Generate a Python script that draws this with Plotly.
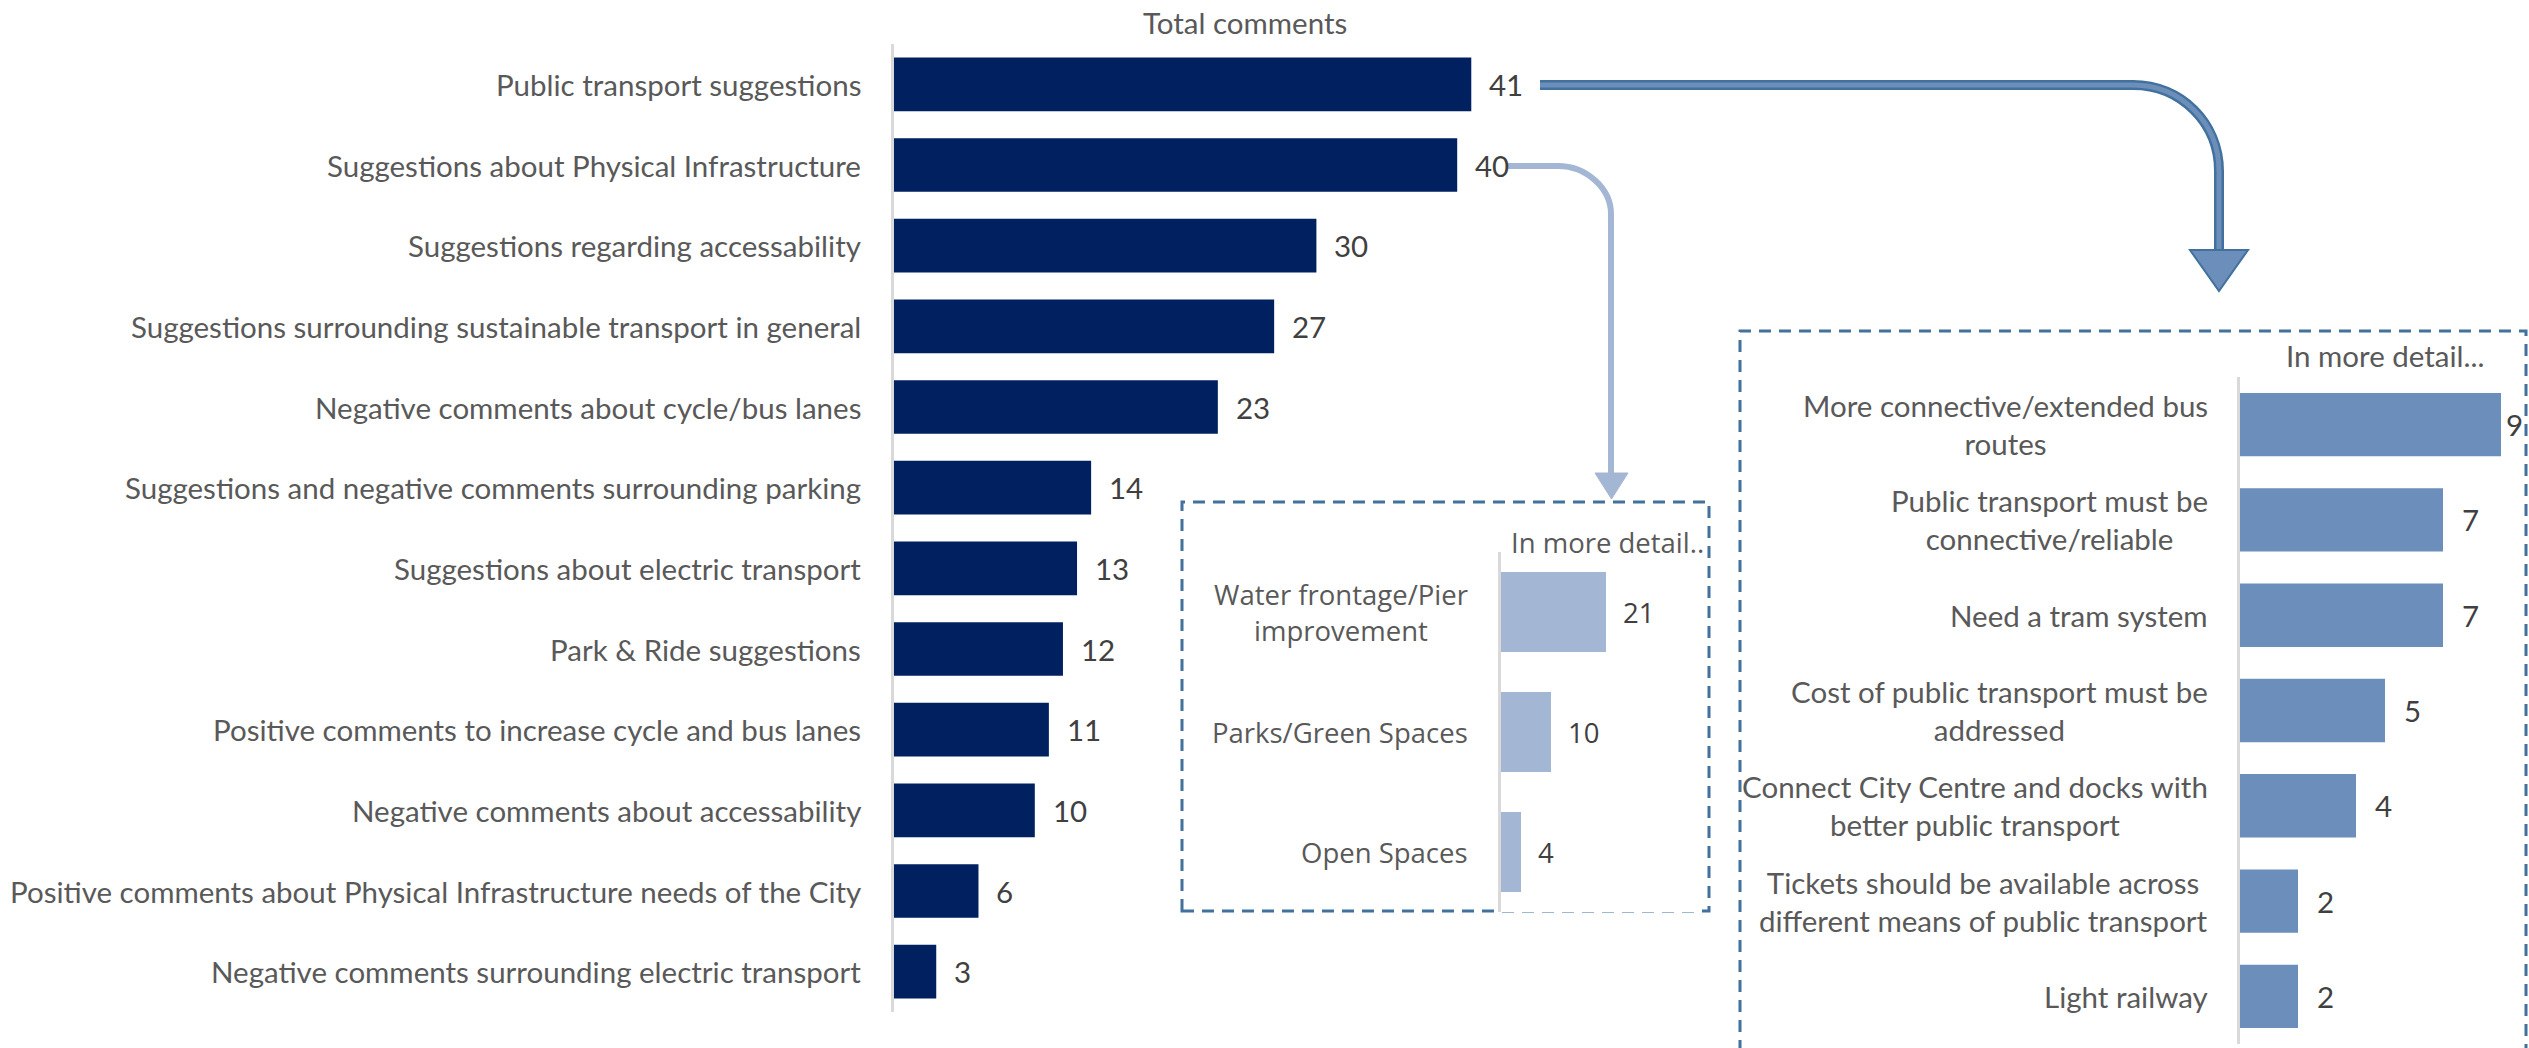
import plotly.graph_objects as go

# ---------------------------------------------------------------- data
main_categories = [
    "Public transport suggestions",
    "Suggestions about Physical Infrastructure",
    "Suggestions regarding accessability",
    "Suggestions surrounding sustainable transport in general",
    "Negative comments about cycle/bus lanes",
    "Suggestions and negative comments surrounding parking",
    "Suggestions about electric transport",
    "Park & Ride suggestions",
    "Positive comments to increase cycle and bus lanes",
    "Negative comments about accessability",
    "Positive comments about Physical Infrastructure needs of the City",
    "Negative comments surrounding electric transport",
]
main_values = [41, 40, 30, 27, 23, 14, 13, 12, 11, 10, 6, 3]

infra_categories = [
    "Water frontage/Pier<br>improvement",
    "Parks/Green Spaces",
    "Open Spaces",
]
infra_values = [21, 10, 4]

transport_categories = [
    "More connective/extended bus<br>routes",
    "Public transport must be<br>connective/reliable",
    "Need a tram system",
    "Cost of public transport must be<br>addressed",
    "Connect City Centre and docks with<br>better public transport",
    "Tickets should be available across<br>different means of public transport",
    "Light railway",
]
transport_values = [9, 7, 7, 5, 4, 2, 2]

main_title = "Total comments"
infra_title = "In more detail.."
transport_title = "In more detail..."

# ---------------------------------------------------------------- styling
W, H = 2529, 1048
NAVY = "#002060"
LIGHT_BLUE = "#A3B7D5"
MID_BLUE = "#6C8EBA"
OUTLINE_BLUE = "#41719C"
AXIS_GREY = "#D9D9D9"
LABEL_GREY = "#595959"
VALUE_GREY = "#404040"
NARROW_FONT = "Lato"
WIDE_FONT = "Open Sans"
NARROW_SIZE = 29.5
WIDE_SIZE = 27.5


def fx(x):
    """pixel column -> paper fraction"""
    return x / W


def fy(y):
    """pixel row (from top) -> paper fraction"""
    return 1 - y / H


panels = [
    dict(cats=main_categories, vals=main_values, color=NAVY, ax="", font=NARROW_FONT,
         size=NARROW_SIZE, xmax=50, x0=894, ppu=14.08, ytop=44, ybot=1012, gap=31, vgap=16),
    dict(cats=infra_categories, vals=infra_values, color=LIGHT_BLUE, ax="2", font=WIDE_FONT,
         size=WIDE_SIZE, xmax=40, x0=1501, ppu=5.0, ytop=552, ybot=912, gap=31, vgap=15),
    dict(cats=transport_categories, vals=transport_values, color=MID_BLUE, ax="3", font=NARROW_FONT,
         size=NARROW_SIZE, xmax=9.5, x0=2240, ppu=29.0, ytop=377, ybot=1044, gap=30, vgap=17),
]

fig = go.Figure()
annotations = []
layout_axes = {}

for p in panels:
    xa = "x" + p["ax"]
    ya = "y" + p["ax"]
    n = len(p["cats"])
    fig.add_trace(go.Bar(
        x=p["vals"], y=p["cats"], orientation="h",
        marker=dict(color=p["color"], line=dict(width=0)),
        width=0.665, xaxis=xa, yaxis=ya,
        hovertemplate="%{y}: %{x}<extra></extra>",
    ))
    layout_axes["xaxis" + p["ax"]] = dict(
        domain=[fx(p["x0"]), fx(p["x0"] + p["ppu"] * p["xmax"])],
        range=[0, p["xmax"]], anchor=ya, visible=False, fixedrange=True,
    )
    layout_axes["yaxis" + p["ax"]] = dict(
        domain=[fy(p["ybot"]), fy(p["ytop"])],
        type="category", categoryorder="array", categoryarray=p["cats"],
        range=[n - 0.5, -0.5], anchor=xa,
        showline=True, linecolor=AXIS_GREY, linewidth=3,
        showgrid=False, zeroline=False, showticklabels=False, ticks="",
        fixedrange=True,
    )
    vmax = max(p["vals"])
    for i, (cat, val) in enumerate(zip(p["cats"], p["vals"])):
        # category label, right-aligned against the axis
        annotations.append(dict(
            x=0, y=i, xref=xa, yref=ya, text=cat, showarrow=False,
            xanchor="right", yanchor="middle", align="center", xshift=-p["gap"],
            font=dict(family=p["font"], size=p["size"], color=LABEL_GREY),
        ))
        # value label just past the bar end (squeezed when it meets the frame)
        shift = p["vgap"]
        if p["ax"] == "3" and val == vmax:
            shift = 3
        annotations.append(dict(
            x=val, y=i, xref=xa, yref=ya, text=str(val), showarrow=False,
            xanchor="left", yanchor="middle", xshift=shift,
            font=dict(family=p["font"], size=p["size"], color=VALUE_GREY),
        ))

# panel titles
annotations += [
    dict(x=fx(1245), y=fy(23), xref="paper", yref="paper", text=main_title,
         showarrow=False, xanchor="center", yanchor="middle",
         font=dict(family=NARROW_FONT, size=NARROW_SIZE, color=LABEL_GREY)),
    dict(x=fx(1509), y=fy(542), xref="paper", yref="paper", text=infra_title,
         showarrow=False, xanchor="left", yanchor="middle",
         font=dict(family=WIDE_FONT, size=WIDE_SIZE, color=LABEL_GREY)),
    dict(x=fx(2284), y=fy(355), xref="paper", yref="paper", text=transport_title,
         showarrow=False, xanchor="left", yanchor="middle",
         font=dict(family=NARROW_FONT, size=NARROW_SIZE, color=LABEL_GREY)),
]


def path(points):
    """build an SVG path in paper space from pixel commands"""
    out = []
    for cmd, *pts in points:
        coords = " ".join(f"{fx(a):.5f},{fy(b):.5f}" for a, b in pts)
        out.append(f"{cmd} {coords}")
    return " ".join(out)


dash = dict(color=OUTLINE_BLUE, width=3, dash="12px,8px")

# callout frames around the breakdown panels
shapes = [
    dict(type="rect", xref="paper", yref="paper",
         x0=fx(1182), x1=fx(1709), y0=fy(911), y1=fy(502), line=dash, layer="below"),
    dict(type="rect", xref="paper", yref="paper",
         x0=fx(1740), x1=fx(2526), y0=fy(1070), y1=fy(331), line=dash, layer="below"),
]

# connector: physical infrastructure -> breakdown panel
light_arrow = path([
    ("M", (1508, 166)), ("L", (1558, 166)),
    ("C", (1586, 166), (1611, 188), (1611, 214)),
    ("L", (1611, 475)),
])
shapes.append(dict(type="path", xref="paper", yref="paper", path=light_arrow,
                   line=dict(color=LIGHT_BLUE, width=6)))
shapes.append(dict(type="path", xref="paper", yref="paper",
                   path=path([("M", (1595, 473)), ("L", (1628, 473)), ("L", (1611.5, 499))]) + " Z",
                   fillcolor=LIGHT_BLUE, line=dict(color=LIGHT_BLUE, width=1)))

# connector: public transport -> breakdown panel
dark_arrow = path([
    ("M", (1540, 85)), ("L", (2133, 85)),
    ("C", (2181, 85), (2219, 123), (2219, 171)),
    ("L", (2219, 252)),
])
shapes.append(dict(type="path", xref="paper", yref="paper", path=dark_arrow,
                   line=dict(color=OUTLINE_BLUE, width=10)))
shapes.append(dict(type="path", xref="paper", yref="paper", path=dark_arrow,
                   line=dict(color=MID_BLUE, width=5)))
shapes.append(dict(type="path", xref="paper", yref="paper",
                   path=path([("M", (2190, 250)), ("L", (2248, 250)), ("L", (2219, 291))]) + " Z",
                   fillcolor=MID_BLUE, line=dict(color=OUTLINE_BLUE, width=2)))

fig.update_layout(
    width=W, height=H,
    margin=dict(l=0, r=0, t=0, b=0),
    paper_bgcolor="white", plot_bgcolor="white",
    showlegend=False,
    annotations=annotations,
    shapes=shapes,
    **layout_axes,
)

fig.write_html("out.html", config={"displayModeBar": False})
